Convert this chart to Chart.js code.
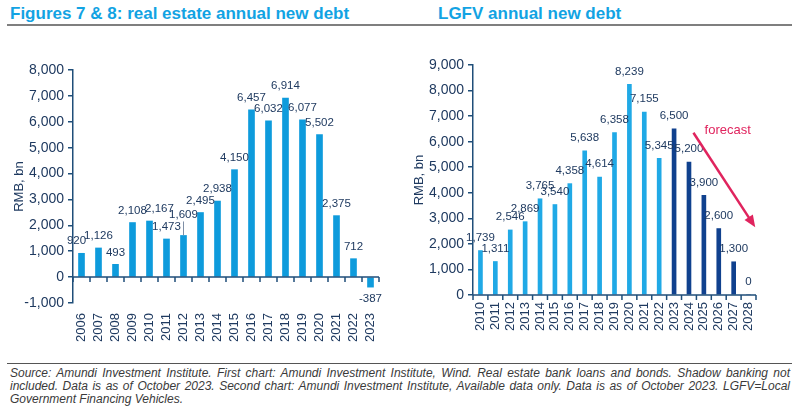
<!DOCTYPE html>
<html>
<head>
<meta charset="utf-8">
<script src="https://cdn.jsdelivr.net/npm/chart.js@4.4.1/dist/chart.umd.min.js"></script>
<style>
  html, body { margin: 0; padding: 0; background: #fff; }
  body { width: 800px; height: 412px; position: relative; overflow: hidden; font-family: "Liberation Sans", Arial, sans-serif; }
  .title { position: absolute; top: 4px; font-size: 17px; font-weight: bold; color: #12a3e3; white-space: nowrap; }
  .rule { position: absolute; top: 24px; height: 2px; background: #7f7f7f; }
  .box { position: absolute; top: 40px; width: 400px; height: 320px; }
  .foot-rule { position: absolute; left: 7px; width: 785px; top: 363px; height: 1px; background: #555; }
  .foot { position: absolute; left: 10px; width: 780px; top: 367px; font-size: 12px; font-style: italic; color: #3a3a3a; line-height: 13px; }
  .foot span { display: block; text-align: justify; text-align-last: justify; white-space: nowrap; }
  .foot span.last { text-align-last: left; }
</style>
</head>
<body>
<div class="title" style="left:10px">Figures 7 &amp; 8: real estate annual new debt</div>
<div class="title" style="left:438px">LGFV annual new debt</div>
<div class="rule" style="left:7px;width:785px"></div>

<div class="box" style="left:0"><canvas id="real-estate"></canvas></div>
<div class="box" style="left:400px"><canvas id="lgfv"></canvas></div>

<div class="foot-rule"></div>
<div class="foot">
  <span>Source: Amundi Investment Institute. First chart: Amundi Investment Institute, Wind. Real estate bank loans and bonds. Shadow banking not</span>
  <span>included. Data is as of October 2023. Second chart: Amundi Investment Institute, Available data only. Data is as of October 2023. LGFV=Local</span>
  <span class="last">Government Financing Vehicles.</span>
</div>

<script>
// real estate annual new debt, RMB bn
const reYears = ['2006', '2007', '2008', '2009', '2010', '2011', '2012', '2013', '2014',
  '2015', '2016', '2017', '2018', '2019', '2020', '2021', '2022', '2023']
const reDebt = [920, 1126, 493, 2108, 2167, 1473, 1609, 2495, 2938,
  4150, 6457, 6032, 6914, 6077, 5502, 2375, 712, -387]

// LGFV annual new debt, RMB bn (2023 onwards drawn dark)
const lgfvYears = ['2010', '2011', '2012', '2013', '2014', '2015', '2016', '2017', '2018', '2019',
  '2020', '2021', '2022', '2023', '2024', '2025', '2026', '2027', '2028']
const lgfvDebt = [1739, 1311, 2546, 2869, 3765, 3540, 4358, 5638, 4614, 6358,
  8239, 7155, 5345, 6500, 5200, 3900, 2600, 1300, 0]
const lgfvDarkFrom = '2023'

const navy = '#1f3a60'
const axisColor = '#1f4e79'
const fontFamily = '"Liberation Sans", Arial, sans-serif'

// label nudges (px) for the crowded labels on the first chart
const reLabelNudge = { '2006': [-5, 0], '2010': [10, 0], '2012': [0, -9] }

const barLabels = {
  id: 'barLabels',
  afterDatasetsDraw(chart, args, opts) {
    const ctx = chart.ctx
    const meta = chart.getDatasetMeta(0)
    const values = chart.data.datasets[0].data
    ctx.save()
    ctx.font = '11.5px ' + fontFamily
    ctx.fillStyle = navy
    ctx.strokeStyle = '#7f8fa6'
    ctx.lineWidth = 1
    ctx.textAlign = 'center'
    ctx.textBaseline = 'middle'
    meta.data.forEach((bar, i) => {
      const v = values[i]
      const nudge = (opts.nudge || {})[chart.data.labels[i]] || [0, 0]
      const x = bar.x + nudge[0]
      const y = (v < 0 ? bar.y + opts.gap : bar.y - opts.gap) + nudge[1]
      if (nudge[1] < 0) {
        ctx.beginPath()
        ctx.moveTo(bar.x, bar.y)
        ctx.lineTo(bar.x, y + 7)
        ctx.stroke()
      }
      ctx.fillText(v.toLocaleString('en-US'), x, y)
    })
    ctx.restore()
  }
}

// axis line at zero with tick marks between categories
const zeroAxis = {
  id: 'zeroAxis',
  afterDatasetsDraw(chart) {
    const { ctx, chartArea, scales: { x, y } } = chart
    const y0 = y.getPixelForValue(0)
    ctx.save()
    ctx.strokeStyle = axisColor
    ctx.lineWidth = 1.5
    ctx.beginPath()
    ctx.moveTo(chartArea.left, y0)
    ctx.lineTo(chartArea.right, y0)
    for (let i = 0; i <= chart.data.labels.length; i++) {
      const px = x.getPixelForValue(i - 0.5)
      ctx.moveTo(px, y0)
      ctx.lineTo(px, y0 + 5)
    }
    ctx.stroke()
    ctx.restore()
  }
}

// forecast arrow, in data units (category index, RMB bn)
const forecastArrow = { from: [14.3, 6350], to: [18.45, 2650], label: [15.05, 6450] }

const forecastNote = {
  id: 'forecastNote',
  afterDatasetsDraw(chart) {
    const { ctx, scales: { x, y } } = chart
    const x1 = x.getPixelForValue(forecastArrow.from[0]), y1 = y.getPixelForValue(forecastArrow.from[1])
    const x2 = x.getPixelForValue(forecastArrow.to[0]), y2 = y.getPixelForValue(forecastArrow.to[1])
    const ang = Math.atan2(y2 - y1, x2 - x1)
    ctx.save()
    ctx.strokeStyle = '#e0245e'
    ctx.fillStyle = '#e0245e'
    ctx.lineWidth = 2.5
    ctx.beginPath()
    ctx.moveTo(x1, y1)
    ctx.lineTo(x2 - 8 * Math.cos(ang), y2 - 8 * Math.sin(ang))
    ctx.stroke()
    ctx.beginPath()
    ctx.moveTo(x2, y2)
    ctx.lineTo(x2 - 12 * Math.cos(ang) + 5 * Math.sin(ang), y2 - 12 * Math.sin(ang) - 5 * Math.cos(ang))
    ctx.lineTo(x2 - 12 * Math.cos(ang) - 5 * Math.sin(ang), y2 - 12 * Math.sin(ang) + 5 * Math.cos(ang))
    ctx.closePath()
    ctx.fill()
    ctx.font = '13px ' + fontFamily
    ctx.textAlign = 'left'
    ctx.textBaseline = 'middle'
    ctx.fillText('forecast', x.getPixelForValue(forecastArrow.label[0]), y.getPixelForValue(forecastArrow.label[1]))
    ctx.restore()
  }
}

function makeChart(id, labels, values, colors, opts) {
  return new Chart(document.getElementById(id), {
    type: 'bar',
    data: {
      labels: labels,
      datasets: [{
        data: values,
        backgroundColor: colors,
        barThickness: opts.barThickness,
        borderWidth: 0
      }]
    },
    options: {
      responsive: true,
      maintainAspectRatio: false,
      animation: false,
      layout: { padding: { left: 0, top: opts.top, right: opts.right, bottom: 0 } },
      plugins: {
        legend: { display: false },
        tooltip: { enabled: false },
        barLabels: { gap: opts.gap, nudge: opts.nudge }
      },
      scales: {
        x: {
          grid: { display: false, drawTicks: false },
          border: { display: false },
          ticks: {
            autoSkip: false, minRotation: 90, maxRotation: 90, padding: opts.xPad,
            color: navy, font: { family: fontFamily, size: 13 }
          },
          afterFit: (scale) => { scale.height = opts.xHeight }
        },
        y: {
          min: opts.min, max: opts.max,
          ticks: { stepSize: 1000, padding: 4, color: navy, font: { family: fontFamily, size: 14 } },
          grid: { drawOnChartArea: false, drawTicks: true, tickLength: 5, color: axisColor, lineWidth: 1.5 },
          border: { display: true, color: axisColor, width: 1.5 },
          title: {
            display: true, text: 'RMB, bn', color: navy,
            font: { family: fontFamily, size: 13 }, padding: { top: 12, bottom: 0 }
          },
          afterFit: (scale) => { scale.width = 73 }
        }
      }
    },
    plugins: opts.plugins
  })
}

makeChart('real-estate', reYears, reDebt, '#0e9bdc', {
  barThickness: 6, top: 30, right: 21, xHeight: 57, xPad: 10,
  min: -1000, max: 8000, gap: 12, nudge: reLabelNudge,
  plugins: [zeroAxis, barLabels]
})

const darkIndex = lgfvYears.indexOf(lgfvDarkFrom)
makeChart('lgfv', lgfvYears, lgfvDebt, lgfvYears.map((y, i) => i >= darkIndex ? '#10418e' : '#20a9e6'), {
  barThickness: 4, top: 25, right: 44, xHeight: 65, xPad: 7,
  min: 0, max: 9000, gap: 13, nudge: {},
  plugins: [zeroAxis, barLabels, forecastNote]
})
</script>
</body>
</html>
